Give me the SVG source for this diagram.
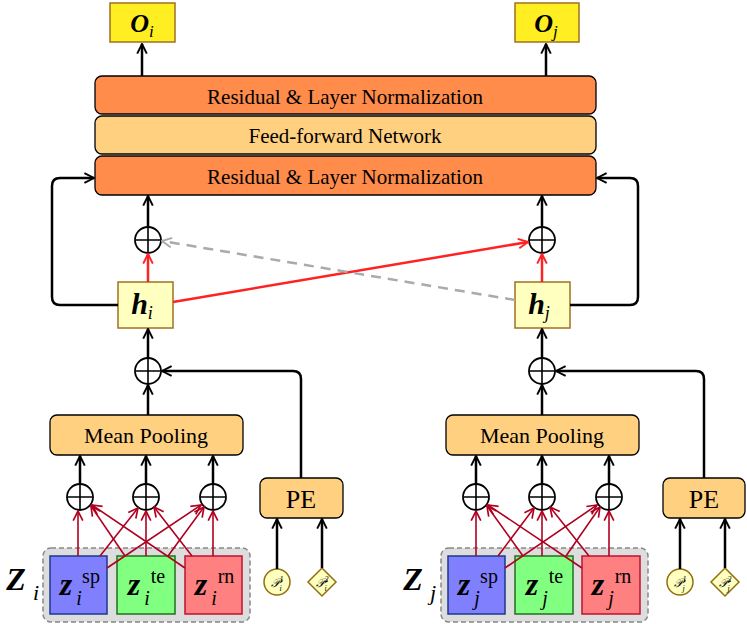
<svg xmlns="http://www.w3.org/2000/svg" width="747" height="624" viewBox="0 0 747 624">
<defs>
<marker id="ab" viewBox="0 0 10 10" refX="9" refY="5" markerWidth="7" markerHeight="7" orient="auto" markerUnits="userSpaceOnUse"><path d="M1,1 L9,5 L1,9" fill="none" stroke="#000" stroke-width="1.6"/></marker>
<marker id="abk" viewBox="0 0 10 10" refX="9" refY="5" markerWidth="12" markerHeight="12" orient="auto" markerUnits="userSpaceOnUse"><path d="M1,1 L9,5 L1,9" fill="none" stroke="#000" stroke-width="1.6"/></marker>
<marker id="ar" viewBox="0 0 10 10" refX="9" refY="5" markerWidth="12" markerHeight="12" orient="auto" markerUnits="userSpaceOnUse"><path d="M1,1 L9,5 L1,9" fill="none" stroke="#f22" stroke-width="1.6"/></marker>
<marker id="ad" viewBox="0 0 10 10" refX="9" refY="5" markerWidth="12" markerHeight="12" orient="auto" markerUnits="userSpaceOnUse"><path d="M1,1 L9,5 L1,9" fill="none" stroke="#b00020" stroke-width="1.4"/></marker>
<marker id="ag" viewBox="0 0 10 10" refX="9" refY="5" markerWidth="12" markerHeight="12" orient="auto" markerUnits="userSpaceOnUse"><path d="M1,1 L9,5 L1,9" fill="none" stroke="#aaa" stroke-width="1.6"/></marker>
</defs>
<style>
text{font-family:"Liberation Serif",serif;fill:#000;text-anchor:middle}
.blk{fill:none;stroke:#000;stroke-width:2.5;marker-end:url(#abk)}
.red{fill:none;stroke:#f22;stroke-width:2.5;marker-end:url(#ar)}
.dr{fill:none;stroke:#b00020;stroke-width:1.6;marker-end:url(#ad)}
.pl{fill:#fff;stroke:#000;stroke-width:1.8}
.out{fill:#ffee22;stroke:#a07020;stroke-width:1.5}
.h{fill:#ffffc0;stroke:#a07020;stroke-width:1.5}
.org{fill:#ff8c4a;stroke:#000;stroke-width:1.3}
.lt{fill:#ffd080;stroke:#000;stroke-width:1.3}
.mi{font-style:italic;font-weight:bold}
.p{fill:#ffffc0;stroke:#907010;stroke-width:1.5}
</style>
<g id="transformer">
<rect x="95" y="76" width="501" height="38" rx="7" class="org"/>
<text x="345" y="104" font-size="21">Residual &amp; Layer Normalization</text>
<rect x="95" y="116" width="501" height="38" rx="7" class="lt"/>
<text x="345" y="143" font-size="21">Feed-forward Network</text>
<rect x="95" y="156" width="501" height="39" rx="7" class="org"/>
<text x="345" y="184" font-size="21">Residual &amp; Layer Normalization</text>
</g>
<g id="Oi"><rect x="110" y="3" width="65" height="39" class="out"/><text x="142" y="32" font-size="26" class="mi">O<tspan font-size="17" font-weight="normal" dy="5">i</tspan></text></g>
<g id="Oj"><rect x="515" y="3" width="64" height="39" class="out"/><text x="546" y="32" font-size="26" class="mi">O<tspan font-size="17" font-weight="normal" dy="5">j</tspan></text></g>
<g id="hi"><rect x="118" y="282" width="55" height="46" class="h"/><text x="142" y="314" font-size="30" class="mi">h<tspan font-size="18" font-weight="normal" dy="5">i</tspan></text></g>
<g id="hj"><rect x="515" y="282" width="55" height="46" class="h"/><text x="539" y="314" font-size="30" class="mi">h<tspan font-size="18" font-weight="normal" dy="5">j</tspan></text></g>
<g id="plus">
<g class="pl"><circle cx="148" cy="240" r="13"/><circle cx="542" cy="240" r="13"/><circle cx="148" cy="371" r="13"/><circle cx="542" cy="371" r="13"/>
<circle cx="80" cy="497" r="13"/><circle cx="146" cy="497" r="13"/><circle cx="213" cy="497" r="13"/>
<circle cx="476" cy="497" r="13"/><circle cx="542" cy="497" r="13"/><circle cx="609" cy="497" r="13"/></g>
<path stroke="#000" stroke-width="1.6" d="M136,240h24M148,228v24M530,240h24M542,228v24M136,371h24M148,359v24M530,371h24M542,359v24M68,497h24M80,485v24M134,497h24M146,485v24M201,497h24M213,485v24M464,497h24M476,485v24M530,497h24M542,485v24M597,497h24M609,485v24"/>
</g>
<g id="mp"><rect x="50" y="415" width="193" height="40" rx="7" class="lt"/><text x="146" y="443" font-size="22" font-family="Liberation Sans">Mean Pooling</text>
<rect x="446" y="415" width="193" height="40" rx="7" class="lt"/><text x="542" y="443" font-size="22">Mean Pooling</text></g>
<g id="pe"><rect x="260" y="478" width="83" height="40" rx="7" class="lt"/><text x="301" y="508" font-size="26">PE</text>
<rect x="663" y="478" width="82" height="40" rx="7" class="lt"/><text x="704" y="508" font-size="26">PE</text></g>
<g id="Zi">
<rect x="43" y="548" width="207" height="74" rx="8" fill="#ddd" stroke="#888" stroke-width="1.5" stroke-dasharray="5,3"/>
<rect x="50" y="556" width="57" height="58" fill="#8080ff" stroke="#1a3a8a" stroke-width="1.5"/>
<rect x="117" y="556" width="58" height="58" fill="#80ff80" stroke="#207020" stroke-width="1.5"/>
<rect x="185" y="556" width="57" height="58" fill="#ff8080" stroke="#c01030" stroke-width="1.5"/>
<text x="66" y="595" font-size="32" class="mi">z</text><text x="91" y="583" font-size="20">sp</text><text x="79" y="605" font-size="20" font-style="italic">i</text>
<text x="134" y="595" font-size="32" class="mi">z</text><text x="158" y="583" font-size="20">te</text><text x="147" y="605" font-size="20" font-style="italic">i</text>
<text x="201" y="595" font-size="32" class="mi">z</text><text x="226" y="583" font-size="20">rn</text><text x="214" y="605" font-size="20" font-style="italic">i</text>
<text x="16" y="590" font-size="32" class="mi">Z</text><text x="36" y="600" font-size="22" font-style="italic">i</text>
</g>
<g id="Zj">
<rect x="441" y="548" width="207" height="74" rx="8" fill="#ddd" stroke="#888" stroke-width="1.5" stroke-dasharray="5,3"/>
<rect x="448" y="556" width="57" height="58" fill="#8080ff" stroke="#1a3a8a" stroke-width="1.5"/>
<rect x="515" y="556" width="58" height="58" fill="#80ff80" stroke="#207020" stroke-width="1.5"/>
<rect x="582" y="556" width="58" height="58" fill="#ff8080" stroke="#c01030" stroke-width="1.5"/>
<text x="464" y="595" font-size="32" class="mi">z</text><text x="489" y="583" font-size="20">sp</text><text x="477" y="605" font-size="20" font-style="italic">j</text>
<text x="532" y="595" font-size="32" class="mi">z</text><text x="556" y="583" font-size="20">te</text><text x="545" y="605" font-size="20" font-style="italic">j</text>
<text x="598" y="595" font-size="32" class="mi">z</text><text x="623" y="583" font-size="20">rn</text><text x="611" y="605" font-size="20" font-style="italic">j</text>
<text x="413" y="590" font-size="32" class="mi">Z</text><text x="433" y="600" font-size="22" font-style="italic">j</text>
</g>
<g id="P">
<circle cx="277" cy="582" r="13" class="p"/><text x="277" y="587" font-size="12" font-style="italic">𝒫<tspan font-size="8" dy="-5">1</tspan><tspan font-size="8" dx="-4" dy="9">i</tspan></text>
<path d="M322,568 L336,582 L322,596 L308,582Z" class="p"/><text x="322" y="587" font-size="12" font-style="italic">𝒫<tspan font-size="8" dy="-5">2</tspan><tspan font-size="8" dx="-4" dy="9">i</tspan></text>
<circle cx="680" cy="582" r="13" class="p"/><text x="680" y="587" font-size="12" font-style="italic">𝒫<tspan font-size="8" dy="-5">1</tspan><tspan font-size="8" dx="-4" dy="9">j</tspan></text>
<path d="M725,568 L739,582 L725,596 L711,582Z" class="p"/><text x="725" y="587" font-size="12" font-style="italic">𝒫<tspan font-size="8" dy="-5">2</tspan><tspan font-size="8" dx="-4" dy="9">j</tspan></text>
</g>
<g id="connectors">
<path class="blk" d="M142,76V44"/><path class="blk" d="M546,76V44"/>
<path class="blk" d="M148,227V196"/><path class="blk" d="M542,227V196"/>
<path class="blk" d="M118,305H60Q52,305 52,297V186Q52,178 60,178H94"/>
<path class="blk" d="M570,305H630Q638,305 638,297V186Q638,178 630,178H597"/>
<path class="red" d="M148,282V254"/><path class="red" d="M542,282V254"/>
<path class="red" d="M173,302L528,242"/>
<path d="M515,300L162,241" fill="none" stroke="#aaa" stroke-width="2.5" stroke-dasharray="10,7" marker-end="url(#ag)"/>
<path class="blk" d="M148,358V329"/><path class="blk" d="M542,358V329"/>
<path class="blk" d="M148,415V385"/><path class="blk" d="M542,415V385"/>
<path class="blk" d="M301,478V379Q301,371 293,371H162"/>
<path class="blk" d="M704,478V379Q704,371 696,371H556"/>
<path class="blk" d="M80,484V456"/><path class="blk" d="M146,484V456"/><path class="blk" d="M213,484V456"/>
<path class="blk" d="M476,484V456"/><path class="blk" d="M542,484V456"/><path class="blk" d="M609,484V456"/>
<path class="blk" d="M277,569V519"/><path class="blk" d="M322,568V519"/>
<path class="blk" d="M680,569V519"/><path class="blk" d="M725,568V519"/>
<g class="dr">
<path d="M78,556V511"/><path d="M146,556V511"/><path d="M213,556V511"/>
<path d="M100,556L138,508"/><path d="M107,568L201,505"/>
<path d="M125,556L91,506"/><path d="M168,556L204,507"/>
<path d="M192,556L154,507"/><path d="M185,568L92,505"/>
<path d="M476,556V511"/><path d="M542,556V511"/><path d="M609,556V511"/>
<path d="M498,556L534,508"/><path d="M505,568L597,505"/>
<path d="M523,556L487,506"/><path d="M566,556L600,507"/>
<path d="M589,556L550,507"/><path d="M582,568L488,505"/>
</g>
</g>
</svg>
